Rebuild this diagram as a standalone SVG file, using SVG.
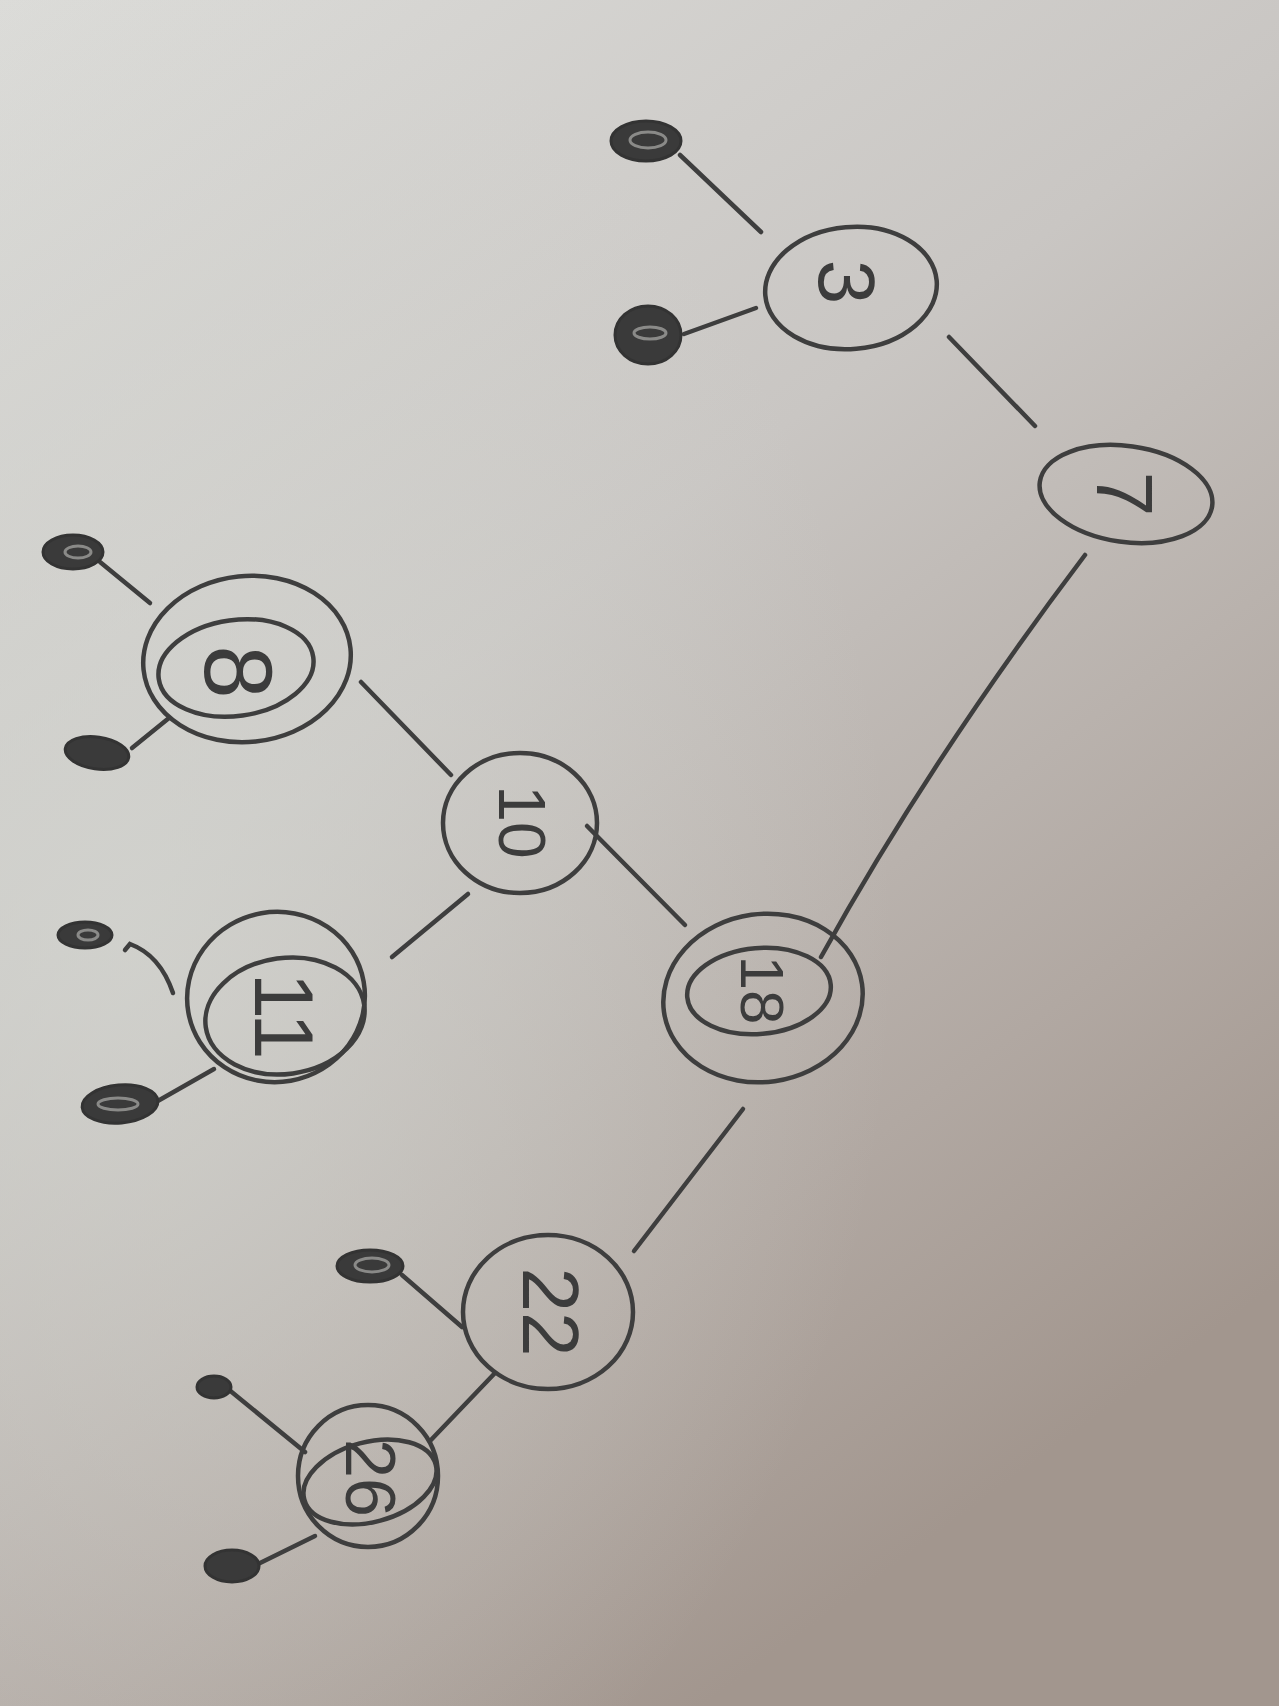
<svg xmlns="http://www.w3.org/2000/svg" width="1279" height="1706" viewBox="0 0 1279 1706">
<defs>
<linearGradient id="bg" x1="0" y1="0" x2="0.55" y2="1">
<stop offset="0" stop-color="#dcdcd9"/>
<stop offset="0.45" stop-color="#c9c6c3"/>
<stop offset="0.8" stop-color="#b1a8a2"/>
<stop offset="1" stop-color="#a2968e"/>
</linearGradient>
<radialGradient id="lt" cx="0.1" cy="0.55" r="0.6">
<stop offset="0" stop-color="#d4d6d1" stop-opacity="0.7"/>
<stop offset="1" stop-color="#d4d6d1" stop-opacity="0"/>
</radialGradient>
<style>
.ring{fill:none;stroke:#3e3e3e;stroke-width:4.5;stroke-linecap:round}
.edge{fill:none;stroke:#3e3e3e;stroke-width:4.5;stroke-linecap:round}
.nil{fill:#3a3a3a;stroke:#333;stroke-width:3}
.hl{fill:none;stroke:#8a8a88;stroke-width:3}
.lbl{font-family:"Liberation Sans",Arial,sans-serif;font-size:80px;fill:#3c3c3c;text-anchor:middle;dominant-baseline:central}
</style>
</defs>
<rect width="1279" height="1706" fill="url(#bg)"/>
<rect width="1279" height="1706" fill="url(#lt)"/>

<g id="connectors">
<line class="edge" x1="761" y1="232" x2="680" y2="155"/>
<line class="edge" x1="756" y1="308" x2="684" y2="334"/>
<line class="edge" x1="949" y1="337" x2="1035" y2="426"/>
<path class="edge" d="M1085,555 Q930,760 821,957"/>
<line class="edge" x1="685" y1="925" x2="587" y2="826"/>
<line class="edge" x1="743" y1="1109" x2="634" y2="1251"/>
<line class="edge" x1="451" y1="775" x2="361" y2="682"/>
<line class="edge" x1="468" y1="894" x2="392" y2="957"/>
<line class="edge" x1="150" y1="603" x2="100" y2="562"/>
<line class="edge" x1="169" y1="718" x2="132" y2="748"/>
<path class="edge" d="M173,993 Q160,955 130,944 L125,950"/>
<line class="edge" x1="214" y1="1069" x2="156" y2="1102"/>
<line class="edge" x1="462" y1="1327" x2="402" y2="1275"/>
<line class="edge" x1="495" y1="1373" x2="430" y2="1441"/>
<line class="edge" x1="305" y1="1452" x2="228" y2="1389"/>
<line class="edge" x1="315" y1="1536" x2="258" y2="1564"/>
</g>

<g id="node-7">
<ellipse class="ring" cx="1126" cy="494" rx="87" ry="48" transform="rotate(8 1126 494)"/>
<text class="lbl" transform="translate(1124,494) rotate(90)">7</text>
</g>
<g id="node-3">
<ellipse class="ring" cx="851" cy="288" rx="86" ry="61" transform="rotate(-5 851 288)"/>
<text class="lbl" transform="translate(846,282) rotate(90)">3</text>
</g>
<g id="node-18">
<ellipse class="ring" cx="763" cy="998" rx="100" ry="84" transform="rotate(-8 763 998)"/>
<ellipse class="ring" cx="759" cy="991" rx="72" ry="43" transform="rotate(-5 759 991)"/>
<text class="lbl" transform="translate(762,990) rotate(90)" style="font-size:62px">18</text>
</g>
<g id="node-10">
<ellipse class="ring" cx="520" cy="823" rx="77" ry="70"/>
<text class="lbl" transform="translate(522,822) rotate(90)" style="font-size:66px">10</text>
</g>
<g id="node-8">
<ellipse class="ring" cx="247" cy="659" rx="104" ry="83" transform="rotate(-6 247 659)"/>
<ellipse class="ring" cx="236" cy="668" rx="78" ry="48" transform="rotate(-8 236 668)"/>
<text class="lbl" transform="translate(238,672) rotate(90)" style="font-size:96px">8</text>
</g>
<g id="node-11">
<ellipse class="ring" cx="276" cy="997" rx="89" ry="85" transform="rotate(-10 276 997)"/>
<ellipse class="ring" cx="285" cy="1016" rx="80" ry="58" transform="rotate(-8 285 1016)"/>
<text class="lbl" transform="translate(284,1016) rotate(90)" style="font-size:84px">11</text>
</g>
<g id="node-22">
<ellipse class="ring" cx="548" cy="1312" rx="85" ry="77"/>
<text class="lbl" transform="translate(550,1312) rotate(90)">22</text>
</g>
<g id="node-26">
<ellipse class="ring" cx="368" cy="1476" rx="70" ry="71"/>
<ellipse class="ring" cx="370" cy="1482" rx="68" ry="40" transform="rotate(-15 370 1482)"/>
<text class="lbl" transform="translate(370,1478) rotate(90)" style="font-size:70px">26</text>
</g>

<g id="nil-3a"><ellipse class="nil" cx="646" cy="141" rx="35" ry="20"/><ellipse class="hl" cx="648" cy="140" rx="18" ry="8"/></g>
<g id="nil-3b"><ellipse class="nil" cx="648" cy="335" rx="33" ry="29"/><ellipse class="hl" cx="650" cy="333" rx="16" ry="6"/></g>
<g id="nil-8a"><ellipse class="nil" cx="73" cy="552" rx="30" ry="17"/><ellipse class="hl" cx="78" cy="552" rx="13" ry="6"/></g>
<g id="nil-8b"><ellipse class="nil" cx="97" cy="753" rx="32" ry="16" transform="rotate(8 97 753)"/></g>
<g id="nil-11a"><ellipse class="nil" cx="85" cy="935" rx="27" ry="13"/><ellipse class="hl" cx="88" cy="935" rx="10" ry="5"/></g>
<g id="nil-11b"><ellipse class="nil" cx="120" cy="1104" rx="38" ry="19" transform="rotate(-5 120 1104)"/><ellipse class="hl" cx="118" cy="1104" rx="20" ry="6"/></g>
<g id="nil-22"><ellipse class="nil" cx="370" cy="1266" rx="33" ry="16"/><ellipse class="hl" cx="372" cy="1265" rx="17" ry="7"/></g>
<g id="nil-26a"><ellipse class="nil" cx="214" cy="1387" rx="17" ry="11"/></g>
<g id="nil-26b"><ellipse class="nil" cx="232" cy="1566" rx="27" ry="16"/></g>
</svg>
